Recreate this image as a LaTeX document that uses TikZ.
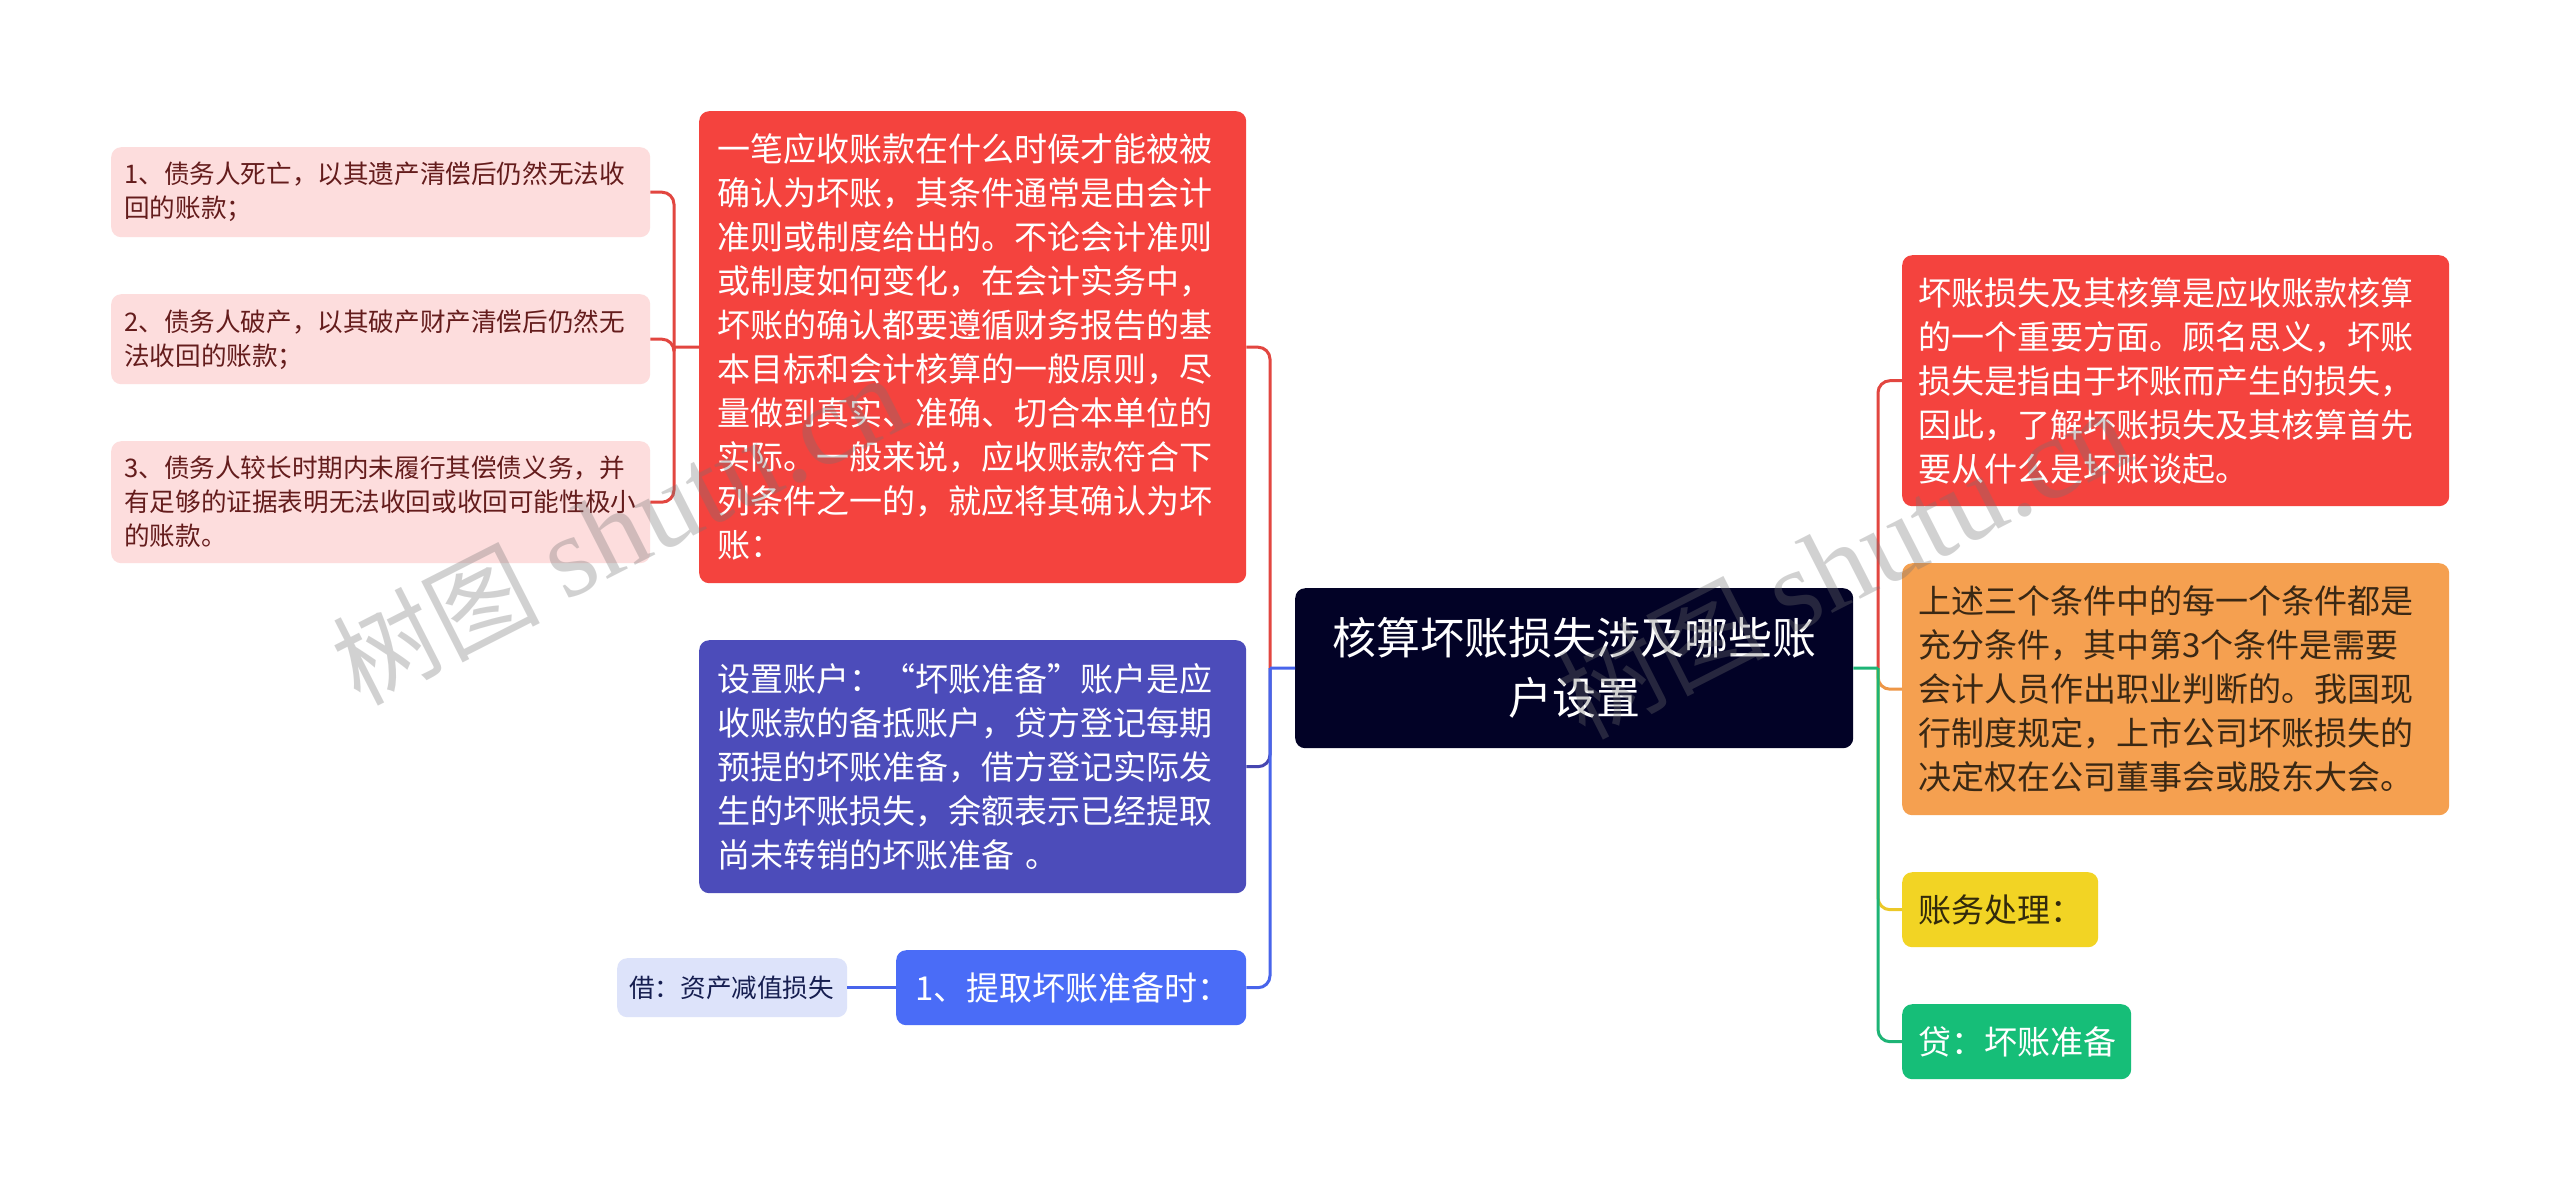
\documentclass[tikz,border=0pt]{standalone}
\usepackage{fontspec}
\setmainfont{Noto Sans CJK SC}
\newfontfamily\wmserif{Liberation Serif}
\definecolor{cRoot}{RGB}{2,2,38}
\definecolor{cRed}{RGB}{244,67,62}
\definecolor{cRedL}{RGB}{226,70,64}
\definecolor{cPink}{RGB}{253,221,221}
\definecolor{cPinkT}{RGB}{100,28,28}
\definecolor{cIndigo}{RGB}{76,76,186}
\definecolor{cIndigoL}{RGB}{70,70,176}
\definecolor{cBlue}{RGB}{74,108,247}
\definecolor{cBlueL}{RGB}{72,100,235}
\definecolor{cLav}{RGB}{221,227,250}
\definecolor{cLavT}{RGB}{22,30,80}
\definecolor{cOrange}{RGB}{245,160,80}
\definecolor{cOrangeL}{RGB}{238,150,70}
\definecolor{cOrangeT}{RGB}{58,40,20}
\definecolor{cYellow}{RGB}{242,212,36}
\definecolor{cYellowL}{RGB}{236,200,40}
\definecolor{cYellowT}{RGB}{50,42,12}
\definecolor{cGreen}{RGB}{22,190,120}
\definecolor{cGreenL}{RGB}{30,180,118}
\begin{document}
\begin{tikzpicture}[x=1pt,y=-1pt,
  box/.style={anchor=north west, rounded corners=10pt, inner ysep=0pt, align=left},
  bigtext/.style={font=\fontsize{33}{44}\selectfont},
  smalltext/.style={font=\fontsize{25.6}{34}\selectfont},
  conn/.style={line width=3pt, rounded corners=12pt},
  wm/.style={text=black!55, opacity=0.32, font=\fontsize{104}{104}\selectfont, rotate=27, inner sep=0pt}]
\useasboundingbox[fill=white] (0,0) rectangle (2560,1192);

% root
\node[box, align=center, fill=cRoot, text=white, inner xsep=16pt,
      minimum width=558pt, minimum height=160pt, text width=526pt,
      font=\fontsize{44}{60}\selectfont] (root) at (1295,588)
      {核算坏账损失涉及哪些账\\户设置};

% left side
\node[box, bigtext, fill=cRed, text=white, inner xsep=18pt,
      minimum width=547pt, minimum height=472pt, text width=511pt] (q) at (699,111)
      {一笔应收账款在什么时候才能被被\\
       确认为坏账，其条件通常是由会计\\
       准则或制度给出的。不论会计准则\\
       或制度如何变化，在会计实务中，\\
       坏账的确认都要遵循财务报告的基\\
       本目标和会计核算的一般原则，尽\\
       量做到真实、准确、切合本单位的\\
       实际。一般来说，应收账款符合下\\
       列条件之一的，就应将其确认为坏\\
       账：};

\node[box, smalltext, fill=cPink, text=cPinkT, inner xsep=13pt,
      minimum width=539pt, minimum height=90pt, text width=513pt] (p1) at (111,147)
      {1、债务人死亡，以其遗产清偿后仍然无法收\\回的账款；};
\node[box, smalltext, fill=cPink, text=cPinkT, inner xsep=13pt,
      minimum width=539pt, minimum height=90pt, text width=513pt] (p2) at (111,294)
      {2、债务人破产，以其破产财产清偿后仍然无\\法收回的账款；};
\node[box, smalltext, fill=cPink, text=cPinkT, inner xsep=13pt,
      minimum width=539pt, minimum height=122pt, text width=513pt] (p3) at (111,441)
      {3、债务人较长时期内未履行其偿债义务，并\\有足够的证据表明无法收回或收回可能性极小\\的账款。};

\node[box, bigtext, fill=cIndigo, text=white, inner xsep=18pt,
      minimum width=547pt, minimum height=253pt, text width=511pt] (acct) at (699,640)
      {设置账户：“坏账准备”账户是应\\
       收账款的备抵账户，贷方登记每期\\
       预提的坏账准备，借方登记实际发\\
       生的坏账损失，余额表示已经提取\\
       尚未转销的坏账准备 。};

\node[box, bigtext, fill=cBlue, text=white, inner xsep=19pt,
      minimum width=350pt, minimum height=75pt, text width=312pt] (tiqu) at (896,950)
      {1、提取坏账准备时：};

\node[box, smalltext, fill=cLav, text=cLavT, inner xsep=12pt,
      minimum width=230pt, minimum height=59pt, text width=206pt] (jie) at (617,958)
      {借：资产减值损失};

% right side
\node[box, bigtext, fill=cRed, text=white, inner xsep=16pt,
      minimum width=547pt, minimum height=251pt, text width=515pt] (r1) at (1902,255)
      {坏账损失及其核算是应收账款核算\\
       的一个重要方面。顾名思义，坏账\\
       损失是指由于坏账而产生的损失，\\
       因此，了解坏账损失及其核算首先\\
       要从什么是坏账谈起。};

\node[box, bigtext, fill=cOrange, text=cOrangeT, inner xsep=16pt,
      minimum width=547pt, minimum height=252pt, text width=515pt] (r2) at (1902,563)
      {上述三个条件中的每一个条件都是\\
       充分条件，其中第3个条件是需要\\
       会计人员作出职业判断的。我国现\\
       行制度规定，上市公司坏账损失的\\
       决定权在公司董事会或股东大会。};

\node[box, bigtext, fill=cYellow, text=cYellowT, inner xsep=16pt,
      minimum width=196pt, minimum height=75pt, text width=164pt] (r3) at (1902,872)
      {账务处理：};

\node[box, bigtext, fill=cGreen, text=white, inner xsep=16pt,
      minimum width=229pt, minimum height=75pt, text width=197pt] (r4) at (1902,1004)
      {贷：坏账准备};

% junction points
\coordinate (LT) at (1270,668);
\coordinate (RT) at (1878,668);
\coordinate (PT) at (674,347);

% left connectors
\draw[conn, cRedL] (LT) |- (q.east);
\draw[conn, cIndigoL] (LT) |- (acct.east);
\draw[conn, cBlueL] (LT) |- (tiqu.east);
\draw[line width=3pt, cBlueL] (root.west) -- (LT);

% pink connectors
\draw[conn, cRedL] (PT) |- (p1.east);
\draw[conn, cRedL] (PT) |- (p2.east);
\draw[conn, cRedL] (PT) |- (p3.east);
\draw[line width=3pt, cRedL] (q.west) -- (PT);

% jie connector
\draw[line width=3pt, cBlueL] (tiqu.west) -- (jie.east);

% right connectors
\draw[conn, cRedL] (RT) |- (r1.west);
\draw[conn, cOrangeL] (RT) |- (r2.west);
\draw[conn, cYellowL] (RT) |- (r3.west);
\draw[conn, cGreenL] (RT) |- (r4.west);
\draw[line width=3pt, cGreenL] (root.east) -- (RT);

% watermarks
\node[wm] (wm1) at (618,530) {树图 {\wmserif\fontsize{116}{116}\selectfont shutu.cn}};
\node[wm] (wm2) at (1843,564) {树图 {\wmserif\fontsize{116}{116}\selectfont shutu.cn}};
\end{tikzpicture}
\end{document}
